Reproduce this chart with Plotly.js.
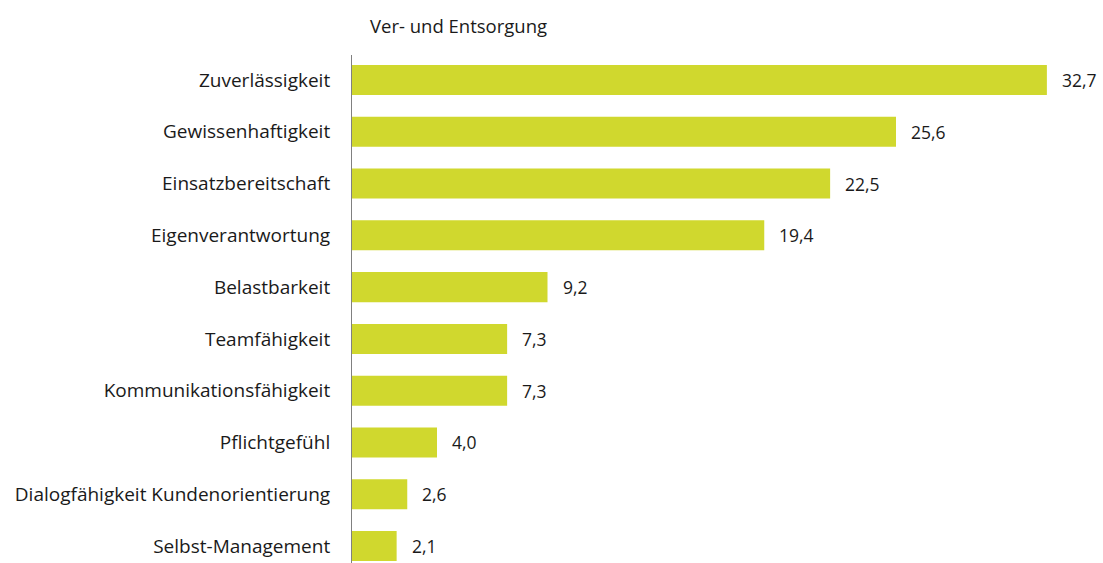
<!DOCTYPE html>
<html>
<head>
<meta charset="utf-8">
<script src="https://cdn.plot.ly/plotly-3.0.1.min.js"></script>
<style>html,body{margin:0;padding:0;background:#fff;}#chart{width:1103px;height:563px;}</style>
</head>
<body>
<div id="chart"></div>
<script>
const categories = ["Zuverlässigkeit","Gewissenhaftigkeit","Einsatzbereitschaft","Eigenverantwortung","Belastbarkeit","Teamfähigkeit","Kommunikationsfähigkeit","Pflichtgefühl","Dialogfähigkeit Kundenorientierung","Selbst-Management"];
const values = [32.7, 25.6, 22.5, 19.4, 9.2, 7.3, 7.3, 4.0, 2.6, 2.1];
const chartTitle = "Ver- und Entsorgung";

const FONT = "'Open Sans', sans-serif";
const labels = values.map(v => v.toFixed(1).replace('.', ','));

const trace = {
  type: 'bar',
  orientation: 'h',
  x: values,
  y: categories,
  width: 0.58,
  marker: {color: '#d0d82e'},
  hoverinfo: 'none'
};

const annotations = values.map((v, i) => ({
  x: v, y: categories[i], xref: 'x', yref: 'y',
  text: labels[i], showarrow: false, xanchor: 'left', xshift: 13,
  font: {family: FONT, size: 17.5, color: '#1a1a1a'}
}));

const layout = {
  width: 1103, height: 563,
  margin: {l: 352, r: 0, t: 55, b: 0},
  paper_bgcolor: '#fff', plot_bgcolor: '#fff',
  showlegend: false,
  title: {text: chartTitle, xref: 'container', yref: 'container', x: 370/1103, xanchor: 'left', y: 1 - 27/563, yanchor: 'middle',
          font: {family: FONT, size: 18.5, color: '#1a1a1a'}},
  xaxis: {range: [0, 751/21.25], showgrid: false, zeroline: false, showticklabels: false, showline: false, fixedrange: true},
  yaxis: {type: 'category', categoryorder: 'array', categoryarray: categories, range: [9.328, -0.483],
          showgrid: false, zeroline: false, showline: true, linecolor: '#808080', linewidth: 1,
          ticks: '', ticklabelstandoff: 17, tickfont: {family: FONT, size: 19, color: '#1a1a1a'}},
  annotations: annotations
};

Plotly.newPlot('chart', [trace], layout, {displayModeBar: false, staticPlot: true});
</script>
</body>
</html>
